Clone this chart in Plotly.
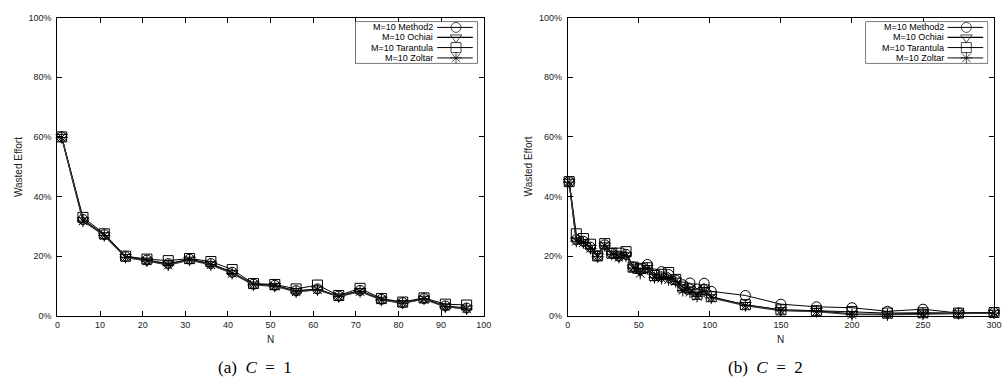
import plotly.graph_objects as go

# ---- data: wasted effort (%) versus N, M = 10 ----
series_names = ["M=10 Method2", "M=10 Ochiai", "M=10 Tarantula", "M=10 Zoltar"]

n_c1 = [1, 6, 11, 16, 21, 26, 31, 36, 41, 46, 51, 56, 61, 66, 71, 76, 81, 86, 91, 96]
method2_c1 = [60, 32.3, 27.2, 19.8, 18.7, 17.5, 19.0, 17.5, 14.6, 10.6, 10.2, 8.4, 9.0, 6.6, 8.5, 5.5, 4.4, 5.8, 3.3, 2.6]
ochiai_c1 = [60, 32.0, 27.0, 19.7, 18.5, 17.2, 18.8, 17.3, 14.4, 10.5, 10.0, 8.2, 8.8, 6.5, 8.3, 5.4, 4.3, 5.7, 3.1, 2.4]
tarantula_c1 = [60, 33.0, 27.5, 20.0, 19.0, 18.5, 19.2, 18.2, 15.5, 10.8, 10.5, 9.0, 10.3, 6.8, 9.2, 5.8, 4.6, 6.0, 3.9, 3.6]
zoltar_c1 = [59.8, 31.8, 26.9, 19.6, 18.4, 17.0, 18.7, 17.1, 14.2, 10.4, 9.9, 8.0, 8.7, 6.4, 8.1, 5.3, 4.2, 5.6, 3.0, 2.3]

n_c2 = [1, 6, 11, 16, 21, 26, 31, 36, 41, 46, 51, 56, 61, 66, 71, 76, 81, 86, 91, 96, 101,
        125, 150, 175, 200, 225, 250, 275, 300]
method2_c2 = [45, 25.5, 25.0, 23.0, 20.0, 23.8, 21.0, 20.0, 20.6, 16.4, 15.5, 17.2, 14.0, 14.8, 13.8,
              12.0, 10.4, 11.0, 9.0, 10.9, 8.2, 6.8, 3.9, 3.0, 2.7, 1.5, 2.2, 0.9, 1.1]
ochiai_c2 = [45, 25.3, 24.6, 22.8, 20.0, 23.6, 20.8, 19.8, 20.3, 16.2, 14.8, 16.0, 13.0, 12.8, 12.4,
             11.8, 9.4, 8.8, 7.0, 8.6, 6.2, 3.6, 1.9, 1.6, 0.6, 0.5, 0.8, 0.8, 1.0]
tarantula_c2 = [45, 27.5, 25.9, 24.0, 20.1, 24.2, 21.0, 21.0, 21.5, 16.3, 15.9, 16.1, 13.5, 13.9, 14.5,
                12.2, 9.6, 9.0, 7.2, 8.7, 6.4, 3.7, 2.0, 1.7, 1.4, 0.9, 1.0, 0.9, 1.1]
zoltar_c2 = [44.8, 25.0, 24.5, 22.6, 19.8, 23.5, 20.6, 19.6, 20.1, 16.0, 14.2, 15.8, 12.8, 12.5, 12.1,
             11.5, 8.5, 7.9, 6.5, 8.2, 6.0, 3.4, 1.7, 1.4, 0.4, 0.3, 0.6, 0.7, 0.9]

x_ticks_c1 = list(range(0, 101, 10))
x_ticks_c2 = list(range(0, 301, 50))
y_ticks = [0, 20, 40, 60, 80, 100]
captions = ["(a)  <i>C</i>  =  1", "(b)  <i>C</i>  =  2"]

# ---- styling ----
W, H = 1007, 387
symbols = ["circle-open", "triangle-down-open", "square-open", "asterisk-open"]
line_colors = ["#000000", "#000000", "#000000", "#3a3a3a"]
line_widths = [1.0, 1.3, 1.0, 1.3]
MARKER_SIZE = 10
SANS = "Liberation Sans, Arial, sans-serif"
SERIF = "Liberation Serif, Times New Roman, serif"


def px(x):
    return x / W


def py(y):
    return 1 - y / H


# panel pixel geometry (left, right, top, bottom)
panels = [(55, 486, 13, 319), (571, 1002, 13, 319)]
legend_boxes = [(356, 480, 17, 60), (872, 996, 17, 60)]

fig = go.Figure()

data_sets = [
    (n_c1, [method2_c1, ochiai_c1, tarantula_c1, zoltar_c1]),
    (n_c2, [method2_c2, ochiai_c2, tarantula_c2, zoltar_c2]),
]

for p, (xs, ys_list) in enumerate(data_sets):
    xa = "x" if p == 0 else "x2"
    ya = "y" if p == 0 else "y2"
    for i, ys in enumerate(ys_list):
        fig.add_trace(go.Scatter(
            x=xs, y=ys, mode="lines+markers", name=series_names[i],
            xaxis=xa, yaxis=ya, showlegend=False, cliponaxis=False,
            line=dict(color=line_colors[i], width=line_widths[i]),
            marker=dict(symbol=symbols[i], size=MARKER_SIZE, color="black",
                        line=dict(color="black", width=1)),
        ))

axis_common = dict(
    showline=True, linecolor="black", linewidth=1, mirror="ticks",
    ticks="inside", ticklen=5, tickcolor="black", tickwidth=1,
    showgrid=False, zeroline=False,
    tickfont=dict(family=SANS, size=9, color="#222"),
)

layout = dict(
    width=W, height=H, margin=dict(l=0, r=0, t=0, b=0),
    paper_bgcolor="white", plot_bgcolor="white", showlegend=False,
)

for p, (l, r, t, b) in enumerate(panels):
    sfx = "" if p == 0 else "2"
    xt = x_ticks_c1 if p == 0 else x_ticks_c2
    layout["xaxis" + sfx] = dict(
        axis_common, domain=[px(l), px(r)], range=[0, xt[-1]],
        tickvals=xt, anchor="y" + sfx,
    )
    layout["yaxis" + sfx] = dict(
        axis_common, domain=[py(b), py(t)], range=[0, 100],
        tickvals=y_ticks, ticktext=[f"{v}%" for v in y_ticks],
        anchor="x" + sfx, ticklabelstandoff=3,
    )

# legend areas use their own axes, laid out in pixel units
for k, (l, r, t, b) in enumerate(legend_boxes):
    n = 3 + k
    layout[f"xaxis{n}"] = dict(domain=[px(l), px(r)], range=[l, r], visible=False,
                               anchor=f"y{n}", fixedrange=True)
    layout[f"yaxis{n}"] = dict(domain=[py(b), py(t)], range=[b, t], visible=False,
                               anchor=f"x{n}", fixedrange=True)

fig.update_layout(**layout)

annotations = []
shapes = []
row_y = [23, 33.3, 43.7, 54.3]
for k, (l, r, t, b) in enumerate(legend_boxes):
    n = 3 + k
    text_right = r - 43
    line_x0, line_x1 = r - 41, r - 5
    mark_x = r - 22
    shapes.append(dict(type="rect", xref=f"x{n}", yref=f"y{n}", x0=l, x1=r, y0=t, y1=b,
                       line=dict(color="black", width=1), fillcolor="white", layer="below"))
    for i, name in enumerate(series_names):
        fig.add_trace(go.Scatter(
            x=[line_x0, mark_x, line_x1], y=[row_y[i]] * 3, mode="lines+markers",
            xaxis=f"x{n}", yaxis=f"y{n}", showlegend=False, hoverinfo="skip",
            line=dict(color=line_colors[i], width=line_widths[i]),
            marker=dict(symbol=symbols[i], size=[0, MARKER_SIZE, 0], color="black",
                        line=dict(color="black", width=1)),
        ))
        annotations.append(dict(
            xref=f"x{n}", yref=f"y{n}", x=text_right, y=row_y[i], text=name,
            showarrow=False, xanchor="right", yanchor="middle",
            font=dict(family=SANS, size=9, color="black"),
        ))

# axis titles and captions
title_x = [15.5, 531.5]
for p, (l, r, t, b) in enumerate(panels):
    annotations.append(dict(
        xref="paper", yref="paper", x=px(title_x[p]), y=py((t + b) / 2),
        text="Wasted Effort", textangle=-90, showarrow=False,
        xanchor="center", yanchor="middle",
        font=dict(family=SANS, size=10, color="#222"),
    ))
    annotations.append(dict(
        xref="paper", yref="paper", x=px((l + r) / 2), y=py(343),
        text="N", showarrow=False, xanchor="center", yanchor="middle",
        font=dict(family=SANS, size=10, color="#222"),
    ))
    annotations.append(dict(
        xref="paper", yref="paper", x=px((l + r) / 2 - 16), y=py(372),
        text=captions[p], showarrow=False, xanchor="center", yanchor="middle",
        font=dict(family=SERIF, size=17, color="black"),
    ))

fig.update_layout(annotations=annotations, shapes=shapes)

fig.write_html("out.html")
